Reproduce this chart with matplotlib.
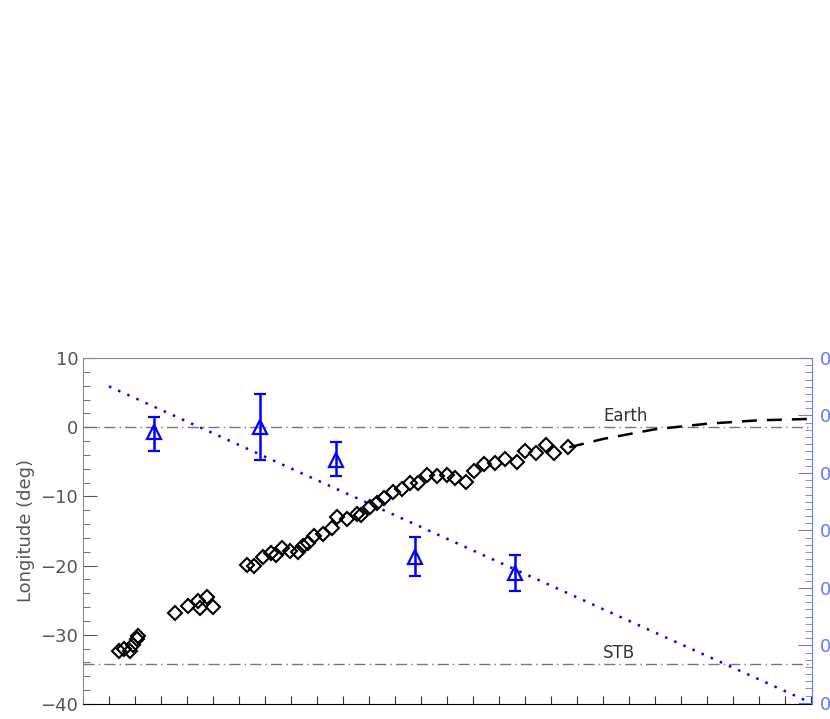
import matplotlib
matplotlib.use("Agg")
import matplotlib.pyplot as plt
from matplotlib.ticker import MultipleLocator

dia_x = [1.40,1.58,1.81,1.93,2.07,2.13,3.54,4.05,4.43,4.50,4.76,5.01,
         6.30,6.58,6.91,7.22,7.42,7.64,7.96,8.28,8.47,8.67,8.88,9.24,9.57,9.76,10.14,10.53,10.68,
         11.04,11.30,11.58,11.93,12.26,12.58,12.90,13.22,13.60,13.99,14.31,14.73,15.05,15.42,15.85,
         16.23,16.70,17.00,17.42,17.81,18.12,18.67]
dia_y = [-32.3,-32.1,-32.3,-31.5,-30.6,-30.2,-26.9,-25.8,-25.1,-26.1,-24.6,-26.0,
         -19.9,-20.1,-18.8,-18.2,-18.4,-17.4,-17.9,-18.1,-17.1,-16.8,-15.7,-15.4,-14.6,-13.0,-13.3,-12.6,-12.7,
         -11.5,-10.9,-10.2,-9.3,-8.9,-8.0,-8.1,-6.9,-7.0,-6.9,-7.3,-7.9,-6.4,-5.3,-5.2,-4.6,
         -5.1,-3.4,-3.8,-2.5,-3.7,-2.9]
tri_x = [2.73, 6.81, 9.73, 12.77, 16.62]
tri_y = [-0.7, 0.0, -4.8, -18.8, -21.0]
tri_lo = [2.7, 4.8, 2.3, 2.7, 2.7]
tri_hi = [2.2, 4.8, 2.6, 2.9, 2.6]
fit_x = [1.0, 28.04]
fit_y = [5.9, -39.9]
ext_x = [18.7, 20.0, 22.0, 24.0, 26.0, 28.04]
ext_y = [-2.9, -1.7, -0.3, 0.5, 1.0, 1.2]
earth_y = 0.0
stb_y = -34.2
right_ticks = [0, 1, 2, 3, 4, 5, 6]
right_labels = ["0.6", "0.5", "0.4", "0.3", "0.2", "0.1", "0.0"]

gray = "#555555"
blue = "#0000ff"
lblue = "#6677ff"
fig = plt.figure(figsize=(8.3, 7.19), dpi=100)
ax = fig.add_axes([83/830, 15/719, 729/830, 346/719])
ax.set_xlim(0, 28.04)
ax.set_ylim(-40, 10)

ax.axhline(earth_y, color="#777777", lw=1, ls=(0, (8, 3, 1, 3)))
ax.axhline(stb_y, color="#777777", lw=1, ls=(0, (8, 3, 1, 3)))
ax.text(20.0, 0.9, "Earth", color="#333333", fontsize=12)
ax.text(20.0, -33.3, "STB", color="#333333", fontsize=12)
ax.plot(fit_x, fit_y, color=blue, ls=(0, (1, 3)), lw=1.8)
ax.plot(ext_x, ext_y, color="black", ls=(0, (6, 4)), lw=1.8)
ax.plot(dia_x, dia_y, ls="none", marker="D", ms=7.5, mfc="none", mec="black", mew=1.5)
ax.errorbar(tri_x, tri_y, yerr=[tri_lo, tri_hi], fmt="^", ms=10, mfc="none",
            mec=blue, mew=1.6, ecolor=blue, elinewidth=1.8, capsize=4, capthick=1.8, color=blue)

ax.xaxis.set_major_locator(MultipleLocator(1))
ax.tick_params(axis="x", direction="in", length=6, color="#333333", labelbottom=False)
ax.yaxis.set_major_locator(MultipleLocator(10))
ax.yaxis.set_minor_locator(MultipleLocator(2))
ax.tick_params(axis="y", which="major", direction="in", length=10, color=gray, labelcolor=gray, labelsize=13)
ax.tick_params(axis="y", which="minor", direction="in", length=5, color=gray)
ax.set_ylabel("Longitude (deg)", color=gray, fontsize=13)
for s in ["left", "top"]:
    ax.spines[s].set_color("#888888")
ax.spines["bottom"].set_color("black")
ax.spines["right"].set_visible(False)

ax2 = ax.twinx()
ax2.set_ylim(6.02, 0)
ax2.set_yticks(right_ticks)
ax2.set_yticklabels(right_labels)
ax2.yaxis.set_minor_locator(MultipleLocator(0.125))
ax2.tick_params(axis="y", which="major", direction="in", length=10, color=lblue, labelcolor=lblue, labelsize=13, pad=6)
ax2.tick_params(axis="y", which="minor", direction="in", length=5, color=lblue)
ax2.spines["right"].set_color(lblue)
for s in ["left", "top", "bottom"]:
    ax2.spines[s].set_visible(False)

fig.savefig("out.png", dpi=100)
